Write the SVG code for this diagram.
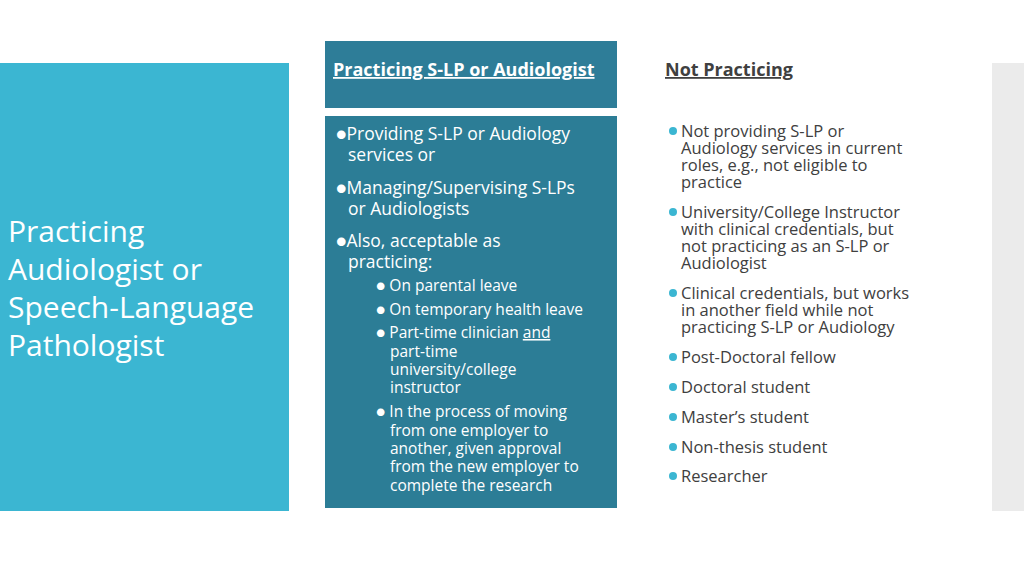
<svg xmlns="http://www.w3.org/2000/svg" width="1024" height="576" viewBox="0 0 1024 576">
<style>
.w{fill:#fff;font-family:"Open Sans",Lato,sans-serif}
.m{font-size:17.5px}
.s{font-size:15.5px}
.r{fill:#404040;font-family:"Open Sans",Lato,sans-serif;font-size:16.5px}
.d{fill:#3BB6D2}
.h{font-family:"Open Sans",Lato,sans-serif;font-size:18px;font-weight:bold;text-decoration:underline}
</style>
<rect width="1024" height="576" fill="#fff"/>
<g id="left"><rect x="0" y="63" width="289" height="448" fill="#3BB6D2"/>
<text class="w" font-size="30"><tspan x="8" y="242">Practicing</tspan><tspan x="8" y="280">Audiologist or</tspan><tspan x="8" y="318">Speech-Language</tspan><tspan x="8" y="356">Pathologist</tspan></text></g>
<g id="graybar"><rect x="992" y="63" width="32" height="448" fill="#EBEBEB"/></g>
<g id="header"><rect x="325" y="41" width="292" height="67" fill="#2E7D98"/>
<text class="h" x="333" y="76" fill="#fff">Practicing S-LP or Audiologist</text></g>
<g id="header2"><text class="h" x="665" y="76" fill="#404040">Not Practicing</text></g>
<g id="middle"><rect x="325" y="116" width="292" height="392" fill="#2C7D96"/>
<text class="w m"><tspan x="336" y="140">●Providing S-LP or Audiology</tspan><tspan x="348" y="161">services or</tspan><tspan x="336" y="194">●Managing/Supervising S-LPs</tspan><tspan x="348" y="215">or Audiologists</tspan><tspan x="336" y="247">●Also, acceptable as</tspan><tspan x="348" y="268">practicing:</tspan></text>
<text class="w s"><tspan x="376" y="291">● On parental leave</tspan><tspan x="376" y="315">● On temporary health leave</tspan><tspan x="376" y="338">● Part-time clinician <tspan text-decoration="underline">and</tspan></tspan><tspan x="390" y="357">part-time</tspan><tspan x="390" y="375">university/college</tspan><tspan x="390" y="393">instructor</tspan><tspan x="376" y="417">● In the process of moving</tspan><tspan x="390" y="436">from one employer to</tspan><tspan x="390" y="454">another, given approval</tspan><tspan x="390" y="472">from the new employer to</tspan><tspan x="390" y="491">complete the research</tspan></text></g>
<g id="right">
<g class="d"><circle cx="673" cy="131" r="4"/><circle cx="673" cy="212" r="4"/><circle cx="673" cy="293" r="4"/><circle cx="673" cy="357" r="4"/><circle cx="673" cy="387" r="4"/><circle cx="673" cy="417" r="4"/><circle cx="673" cy="447" r="4"/><circle cx="673" cy="476" r="4"/></g>
<text class="r"><tspan x="681" y="137">Not providing S-LP or</tspan><tspan x="681" y="154">Audiology services in current</tspan><tspan x="681" y="171">roles, e.g., not eligible to</tspan><tspan x="681" y="188">practice</tspan><tspan x="681" y="218">University/College Instructor</tspan><tspan x="681" y="235">with clinical credentials, but</tspan><tspan x="681" y="252">not practicing as an S-LP or</tspan><tspan x="681" y="269">Audiologist</tspan><tspan x="681" y="299">Clinical credentials, but works</tspan><tspan x="681" y="316">in another field while not</tspan><tspan x="681" y="333">practicing S-LP or Audiology</tspan><tspan x="681" y="363">Post-Doctoral fellow</tspan><tspan x="681" y="393">Doctoral student</tspan><tspan x="681" y="423">Master’s student</tspan><tspan x="681" y="453">Non-thesis student</tspan><tspan x="681" y="482">Researcher</tspan></text></g>
<g id="connectors"/>
</svg>
